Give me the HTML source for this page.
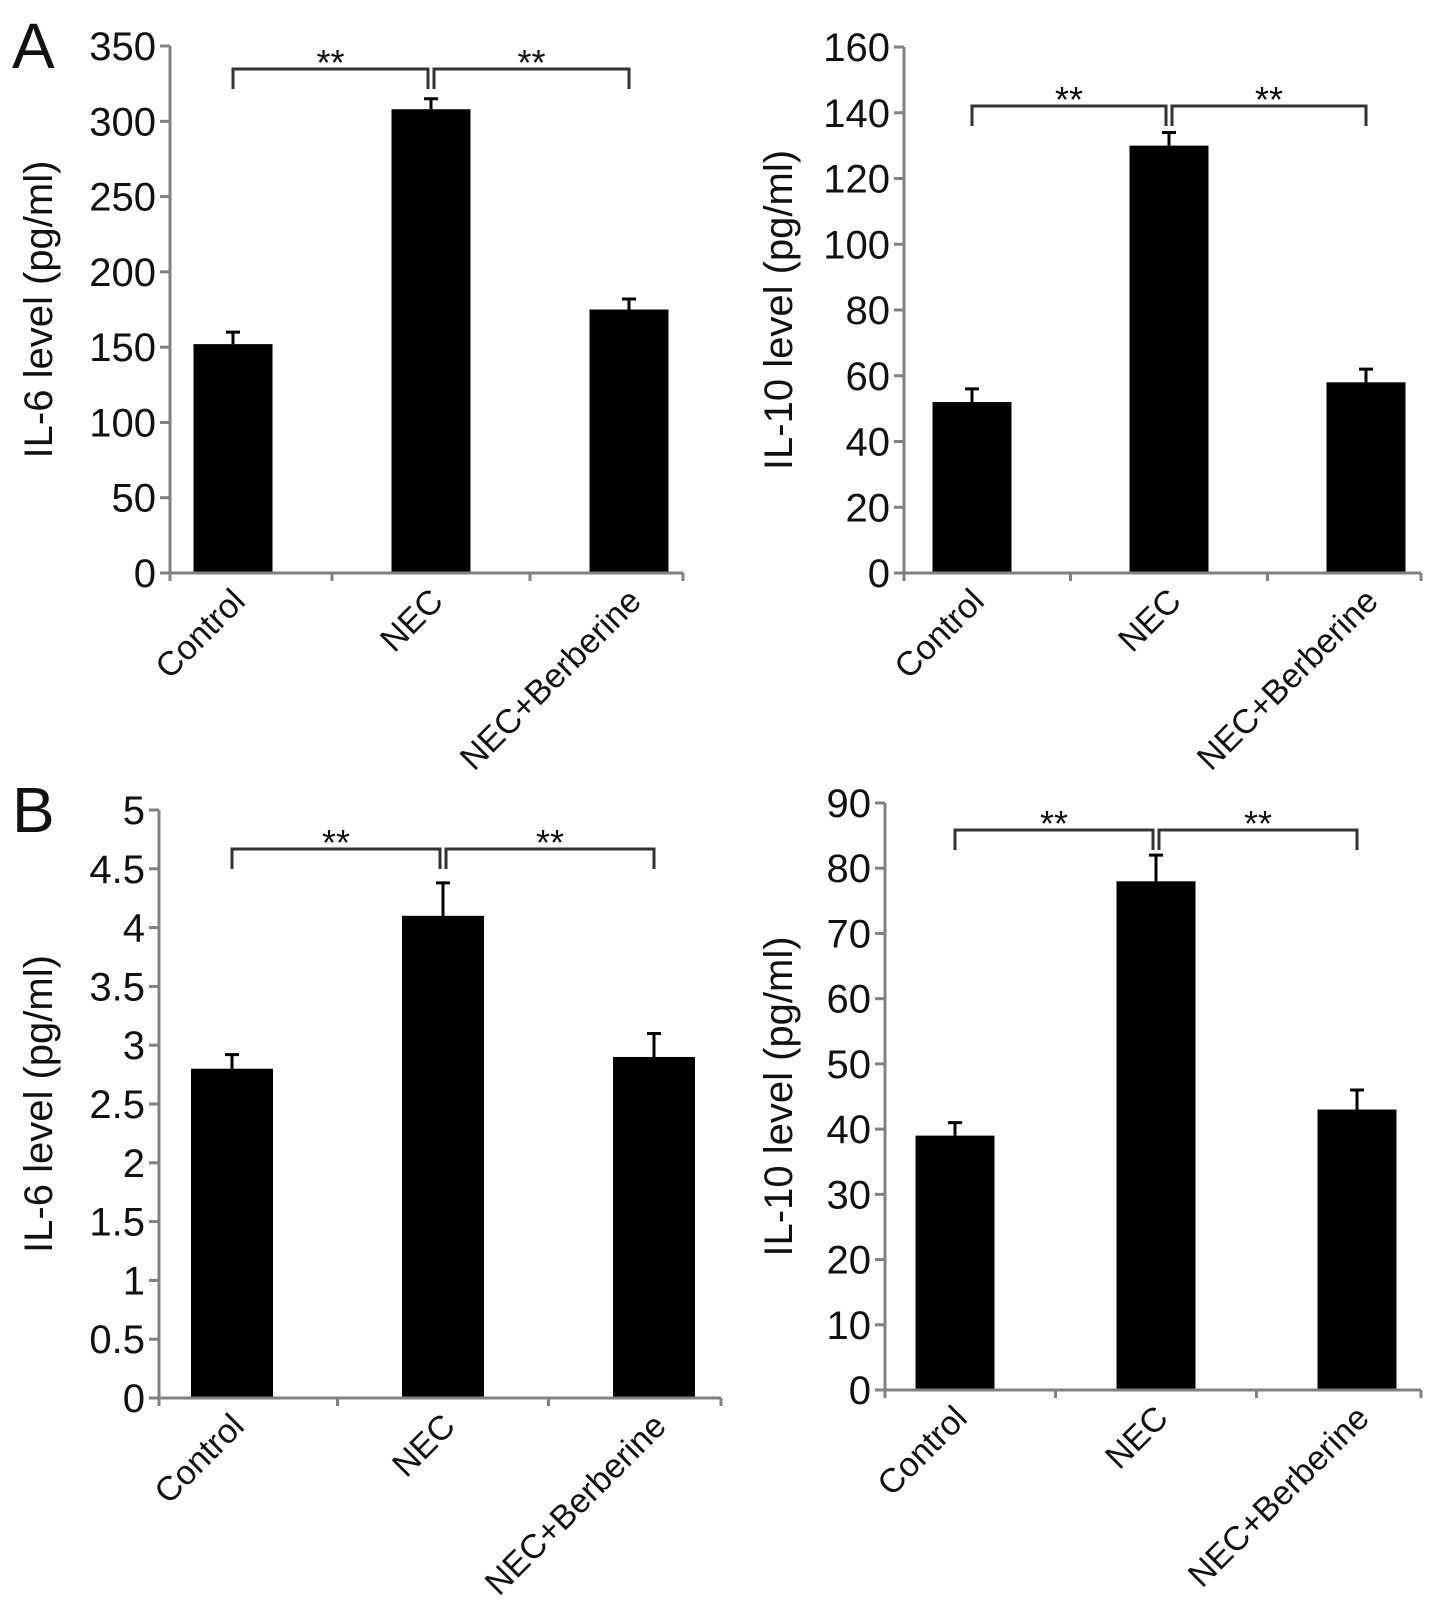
<!DOCTYPE html>
<html><head><meta charset="utf-8"><style>
body{margin:0;background:#fff}
svg{display:block}
text{font-family:"Liberation Sans",Arial,sans-serif;fill:#111}
</style></head><body>
<svg id="fig" width="1441" height="1607" viewBox="0 0 1441 1607"></svg>
<script>
const categories = ["Control","NEC","NEC+Berberine"];
const aIL6Values = [152, 308, 175];
const aIL6Errors = [8, 7, 7];
const aIL6Ticks = [0,50,100,150,200,250,300,350];
const aIL10Values = [52, 130, 58];
const aIL10Errors = [4, 4, 4];
const aIL10Ticks = [0,20,40,60,80,100,120,140,160];
const bIL6Values = [2.8, 4.1, 2.9];
const bIL6Errors = [0.12, 0.28, 0.2];
const bIL6Ticks = ["0","0.5","1","1.5","2","2.5","3","3.5","4","4.5","5"];
const bIL10Values = [39, 78, 43];
const bIL10Errors = [2, 4, 3];
const bIL10Ticks = [0,10,20,30,40,50,60,70,80,90];

const NS="http://www.w3.org/2000/svg";
const svg=document.getElementById('fig');
function mk(tag,attrs,parent){const e=document.createElementNS(NS,tag);for(const k in attrs)e.setAttribute(k,attrs[k]);(parent||svg).appendChild(e);return e;}

function panel(cfg){
  const g=mk('g',{});
  
  
  const ticks=cfg.ticks.map(Number);
  const yMax=ticks[ticks.length-1];
  const y=v=>cfg.y0-(v/yMax)*(cfg.y0-cfg.yTop);
  const cx=i=>cfg.c0+i*cfg.step;
  cfg.values.forEach((v,i)=>{
    const b=mk('rect',{x:cx(i)-cfg.bw/2,y:y(v),width:cfg.bw,height:cfg.y0-y(v),fill:'#000'},g);
    
    
    const e=cfg.errors[i];
    const eb=mk('path',{d:`M${cx(i)} ${y(v)} V${y(v+e)} M${cx(i)-7} ${y(v+e)} H${cx(i)+7}`,stroke:'#000','stroke-width':3,fill:'none'},g);
    
    
  });
  const ax=mk('path',{d:`M${cfg.ax} ${cfg.yTop} V${cfg.y0+8} M${cfg.ax-8} ${cfg.y0} H${cfg.xEnd} M${cfg.xEnd} ${cfg.y0} v8`,stroke:'#808080','stroke-width':3,fill:'none'},g);
  
  
  [0.5,1.5].forEach(k=>{const tx=cx(0)+k*cfg.step;mk('line',{x1:tx,x2:tx,y1:cfg.y0,y2:cfg.y0+8,stroke:'#808080','stroke-width':3},g);});
  cfg.ticks.forEach(t=>{
    const yy=y(Number(t));
    mk('line',{x1:cfg.ax-10,x2:cfg.ax,y1:yy,y2:yy,stroke:'#808080','stroke-width':3},g);
    const tl=mk('text',{x:cfg.ax-14,y:yy+14,'text-anchor':'end','font-size':40},g);
    tl.textContent=t;
    
    
  });
  const ymid=(cfg.y0+cfg.yTop)/2;
  const tt=mk('text',{x:cfg.titleX,y:ymid,'text-anchor':'middle','font-size':40,transform:`rotate(-90 ${cfg.titleX} ${ymid})`},g);
  tt.textContent=cfg.title;
  
  
  categories.forEach((c,i)=>{
    const lx=cx(i)+14, ly=cfg.y0+30;
    const t=mk('text',{x:lx,y:ly,'text-anchor':'end','font-size':34,transform:`rotate(-45 ${lx} ${ly})`},g);
    t.textContent=c;
    
    
  });
  const by=cfg.bracketY;
  [[0,1],[1,2]].forEach(([a,b])=>{
    const x1=cx(a)+(a===1?3:0), x2=cx(b)-(b===1?3:0);
    const br=mk('path',{d:`M${x1} ${by+20} V${by} H${x2} V${by+20}`,stroke:'#333','stroke-width':3,fill:'none'},g);
    
    
    const s=mk('text',{x:(x1+x2)/2,y:by+6,'text-anchor':'middle','font-size':36},g);
    s.textContent='**';
    
    
  });
}

panel({name:'panel-a-il6',values:aIL6Values,errors:aIL6Errors,ticks:aIL6Ticks,ax:170,y0:573,yTop:46,xEnd:683,c0:233,step:198,bw:79,bracketY:69,titleX:52,title:'IL-6 level (pg/ml)'});
panel({name:'panel-a-il10',values:aIL10Values,errors:aIL10Errors,ticks:aIL10Ticks,ax:904,y0:573,yTop:47,xEnd:1421,c0:972,step:197,bw:79,bracketY:106,titleX:792,title:'IL-10 level (pg/ml)'});
panel({name:'panel-b-il6',values:bIL6Values,errors:bIL6Errors,ticks:bIL6Ticks,ax:159,y0:1398,yTop:810,xEnd:721,c0:232,step:211,bw:82,bracketY:849,titleX:52,title:'IL-6 level (pg/ml)'});
panel({name:'panel-b-il10',values:bIL10Values,errors:bIL10Errors,ticks:bIL10Ticks,ax:885,y0:1390,yTop:803,xEnd:1421,c0:955,step:201,bw:79,bracketY:830,titleX:792,title:'IL-10 level (pg/ml)'});

const la=mk('text',{x:12,y:68,'font-size':64});la.textContent='A';


const lb=mk('text',{x:12,y:832,'font-size':64});lb.textContent='B';


</script>
</body></html>
